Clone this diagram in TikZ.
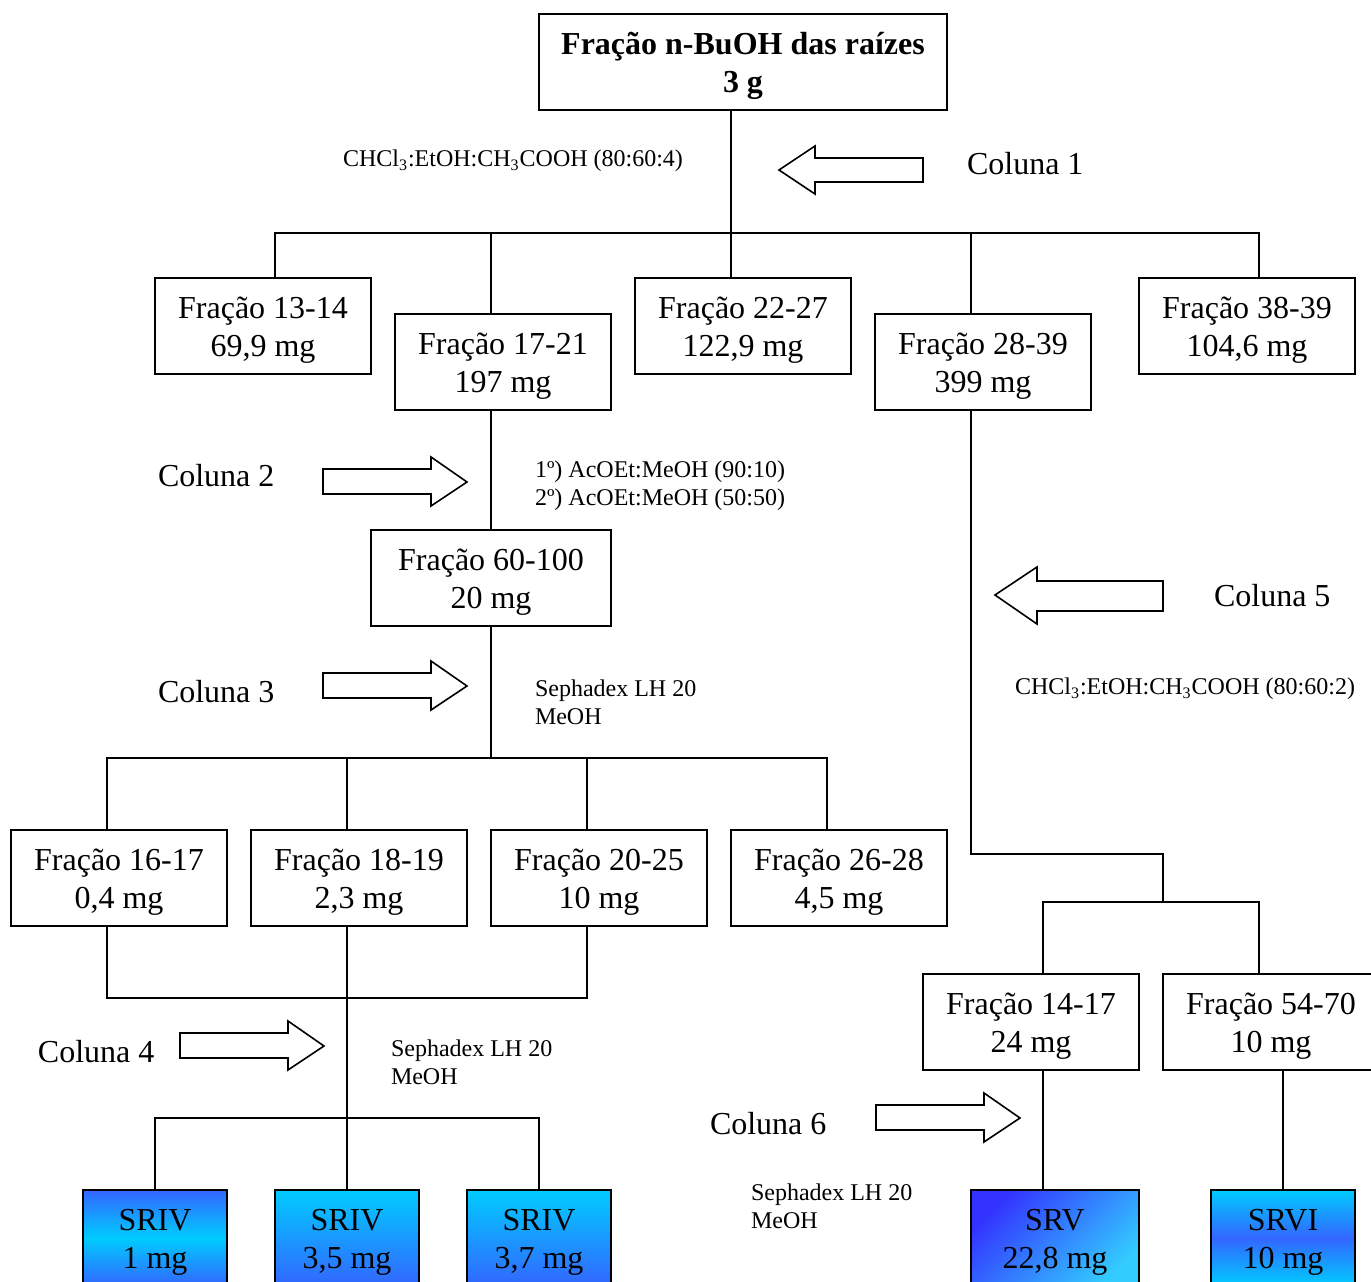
\documentclass[tikz,border=0pt]{standalone}
\usepackage{fontspec}
\setmainfont{Liberation Serif}
\usetikzlibrary{positioning}

\definecolor{srblue}{HTML}{3366FF}
\definecolor{srcyan}{HTML}{00CCFF}
\definecolor{srdeep}{HTML}{3333FF}
\definecolor{srlight}{HTML}{33CCFF}

% two lines of a box, first one with a little extra room above
\newcommand{\twolines}[2]{\rule{0pt}{15pt}#1\\#2}

\tikzset{
  box/.style={draw, line width=1pt, minimum width=108pt, minimum height=48pt,
    inner sep=0pt, align=center, font=\fontsize{16}{19}\selectfont},
  srbox/.style={box, minimum width=72pt},
  note/.style={anchor=west, inner sep=0pt, align=left, font=\fontsize{12}{14}\selectfont},
  colname/.style={anchor=west, inner sep=0pt, font=\fontsize{16}{19}\selectfont},
  blockarrow/.style={draw, line width=0.8pt, fill=white, line join=miter}
}

\begin{document}
\begin{tikzpicture}[x=0.5pt, y=-0.5pt, line width=1pt]
\useasboundingbox (0,0) rectangle (1371,1281);

% starting fraction
\node [box, minimum width=204pt, font=\fontsize{16}{19}\selectfont\bfseries] (top) at (743,62)
  {\twolines{Fração n-BuOH das raízes}{3 g}};

% coluna 1
\node [box] (f1) at (263,326) {\twolines{Fração 13-14}{69,9 mg}};
\node [box] (f2) at (503,362) {\twolines{Fração 17-21}{197 mg}};
\node [box] (f3) at (743,326) {\twolines{Fração 22-27}{122,9 mg}};
\node [box] (f4) at (983,362) {\twolines{Fração 28-39}{399 mg}};
\node [box] (f5) at (1247,326) {\twolines{Fração 38-39}{104,6 mg}};

% coluna 2
\node [box, minimum width=120pt] (g) at (491,578) {\twolines{Fração 60-100}{20 mg}};

% coluna 3
\node [box] (h1) at (119,878) {\twolines{Fração 16-17}{0,4 mg}};
\node [box] (h2) at (359,878) {\twolines{Fração 18-19}{2,3 mg}};
\node [box] (h3) at (599,878) {\twolines{Fração 20-25}{10 mg}};
\node [box] (h4) at (839,878) {\twolines{Fração 26-28}{4,5 mg}};

% coluna 4
\node [srbox, top color=srblue, bottom color=srblue, middle color=srcyan] (s1) at (155,1238) {\twolines{SRIV}{1 mg}};
\node [srbox, top color=srcyan, bottom color=srblue] (s2) at (347,1238) {\twolines{SRIV}{3,5 mg}};
\node [srbox, top color=srcyan, bottom color=srblue] (s3) at (539,1238) {\twolines{SRIV}{3,7 mg}};

% coluna 5
\node [box] (d1) at (1031,1022) {\twolines{Fração 14-17}{24 mg}};
\node [box] (d2) at (1271,1022) {\twolines{Fração 54-70}{10 mg}};

% coluna 6
\node [srbox, minimum width=84pt, top color=srdeep, bottom color=srlight, shading angle=45] (t1) at (1055,1238) {\twolines{SRV}{22,8 mg}};
\node [srbox, top color=srcyan, bottom color=srcyan, middle color=srblue] (t2) at (1283,1238) {\twolines{SRVI}{10 mg}};

% eluents
\node [note] (e1) at (342,161) {CHCl\textsubscript{3}:EtOH:CH\textsubscript{3}COOH (80:60:4)};
\node [note] (e2) at (534,486) {1º) AcOEt:MeOH (90:10)\\2º) AcOEt:MeOH (50:50)};
\node [note] (e3) at (534,702) {Sephadex LH 20\\MeOH};
\node [note] (e4) at (390,1062) {Sephadex LH 20\\MeOH};
\node [note] (e5) at (1014,689) {CHCl\textsubscript{3}:EtOH:CH\textsubscript{3}COOH (80:60:2)};
\node [note] (e6) at (750,1206) {Sephadex LH 20\\MeOH};

\node [colname] (c1) at (966,164) {Coluna 1};
\node [colname] (c2) at (157,476) {Coluna 2};
\node [colname] (c3) at (157,692) {Coluna 3};
\node [colname] (c4) at (37,1052) {Coluna 4};
\node [colname] (c5) at (1213,596) {Coluna 5};
\node [colname] (c6) at (709,1124) {Coluna 6};

% block arrows
\draw [blockarrow] (779,170) -- (815,146) -- (815,158) -- (923,158) -- (923,182) -- (815,182) -- (815,194) -- cycle;
\draw [blockarrow] (995,595) -- (1037,567) -- (1037,581) -- (1163,581) -- (1163,611) -- (1037,611) -- (1037,624) -- cycle;
\foreach \dx/\dy in {0/0, 0/204, -143/564, 553/636}
{
	\draw [blockarrow, shift={(\dx,\dy)}] (323,469) -- (431,469) -- (431,457) -- (467,482)
	  -- (431,506) -- (431,494) -- (323,494) -- cycle;
}

% connectors
\coordinate (j1) at (731,233);
\draw ([xshift=-6pt]top.south) -- (j1);
\draw ([xshift=6pt]f1.north) |- (j1) -| ([xshift=6pt]f5.north);
\draw ([xshift=-6pt]f2.north) -- ([xshift=-6pt]f2.north |- j1);
\draw ([xshift=-6pt]f3.north) -- ([xshift=-6pt]f3.north |- j1);
\draw ([xshift=-6pt]f4.north) -- ([xshift=-6pt]f4.north |- j1);

\draw ([xshift=-6pt]f2.south) -- (g.north);

\coordinate (j2) at (491,758);
\draw (g.south) -- (j2);
\draw ([xshift=-6pt]h1.north) |- (j2) -| ([xshift=-6pt]h4.north);
\draw ([xshift=-6pt]h2.north) -- ([xshift=-6pt]h2.north |- j2);
\draw ([xshift=-6pt]h3.north) -- ([xshift=-6pt]h3.north |- j2);

\coordinate (j3) at (347,998);
\coordinate (j4) at (347,1118);
\draw ([xshift=-6pt]h1.south) |- (j3) -| ([xshift=-6pt]h3.south);
\draw ([xshift=-6pt]h2.south) -- (j4);
\draw (s1.north) |- (j4) -| (s3.north);
\draw (s2.north) -- (j4);

\coordinate (k1) at (1163,854);
\coordinate (k2) at (1163,902);
\draw ([xshift=-6pt]f4.south) |- (k1) -- (k2);
\draw ([xshift=6pt]d1.north) |- (k2) -| ([xshift=-6pt]d2.north);
\draw ([xshift=6pt]d1.south) -- ([xshift=-6pt]t1.north);
\draw ([xshift=6pt]d2.south) -- (t2.north);

\end{tikzpicture}
\end{document}
